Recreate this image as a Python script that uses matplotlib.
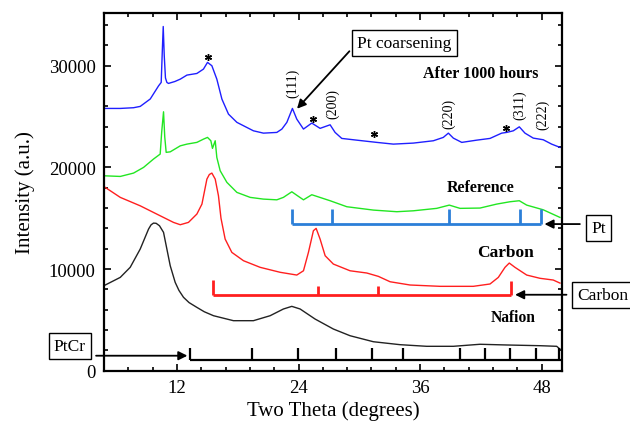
import matplotlib
matplotlib.use("Agg")
import matplotlib.pyplot as plt
from matplotlib.ticker import MultipleLocator

plt.rcParams["font.family"] = "Liberation Serif"

# ───────────── diffraction curves (two theta, intensity) ─────────────
after_x = [4.93, 6.41, 7.72, 8.38, 9.37, 10.19, 10.45, 10.55, 10.65, 10.75, 10.87,
           11.01, 11.17, 11.8, 12.33, 12.99, 13.97, 14.62, 15.02, 15.45, 15.94, 16.44,
           17.09, 17.92, 18.90, 19.55, 20.54, 21.86, 22.36, 22.85, 23.40, 23.83,
           24.49, 25.31, 26.13, 27.12, 27.61, 28.27, 29.75, 31.72, 33.36, 35.33,
           37.31, 38.29, 38.79, 39.28, 40.11, 41.59, 42.90, 44.05, 44.54, 45.20,
           45.79, 46.35, 47.17, 48.15, 48.98, 49.80]
after_y = [25800, 25800, 25870, 26000, 26730, 28020, 28360, 31200, 33860, 31000, 28800,
           28360, 28260, 28450, 28680, 29080, 29240, 29670, 30330, 30000, 28680, 26720,
           25240, 24430, 23930, 23600, 23370, 23440, 23770, 24430, 25800, 24750,
           23770, 24360, 23840, 24190, 23440, 22850, 22680, 22460, 22290, 22390,
           22620, 22950, 23370, 22880, 22460, 22680, 22850, 23370, 23440, 23600,
           23990, 23370, 22880, 22720, 22290, 21970]

ref_x = [4.93, 6.41, 7.72, 8.71, 9.69, 10.35, 10.50, 10.68, 10.80, 10.94, 11.34,
         12.33, 12.99, 13.97, 14.62, 15.02, 15.35, 15.51, 15.78, 15.94, 16.27,
         16.93, 17.92, 19.23, 20.54, 21.86, 22.51, 23.34, 23.99, 24.49, 25.31,
         27.12, 28.77, 31.39, 33.70, 35.33, 37.64, 38.88, 39.94, 41.91, 43.56,
         44.87, 45.79, 46.52, 48.15, 49.80]
ref_y = [19170, 19110, 19440, 20000, 20820, 21310, 23500, 25470, 23000, 21480, 21530,
         22120, 22290, 22460, 22780, 22950, 22620, 21870, 22620, 20980, 19670,
         18530, 17540, 17050, 16880, 16810, 17050, 17600, 17150, 16810, 17310,
         16720, 16130, 15800, 15640, 15730, 15970, 16290, 15970, 16000, 16390,
         16620, 16720, 16290, 15830, 15080]

carbon_x = [4.93, 6.41, 8.38, 10.35, 11.66, 12.33, 13.14, 13.97, 14.47, 14.96, 15.2,
            15.45, 15.78, 16.10, 16.35, 16.76, 17.42, 18.57, 20.21, 22.19, 23.83,
            24.49, 24.98, 25.47, 25.74, 26.13, 26.63, 27.44, 29.09, 30.74, 31.88,
            33.04, 35.01, 37.97, 41.25, 42.90, 43.72, 44.38, 44.80, 45.36, 46.52,
            47.83, 49.14, 49.80]
carbon_y = [18030, 17050, 16220, 15240, 14590, 14360, 14590, 15410, 16390, 18850, 19300,
            19440, 18850, 17210, 15000, 12950, 11640, 10820, 10170, 9680, 9410,
            9830, 11640, 13770, 14000, 12950, 11310, 10490, 9830, 9610, 9280,
            8750, 8430, 8300, 8300, 8530, 9180, 10170, 10590, 10170, 9410,
            9090, 8920, 8620]

nafion_x = [4.93, 6.41, 7.39, 8.38, 9.20, 9.45, 9.69, 9.95, 10.28, 10.68, 11.01, 11.34,
            11.83, 12.2, 12.65, 13.2, 13.97, 14.7, 15.61, 17.58, 19.55, 21.20, 22.51,
            23.34, 24.16, 25.64, 27.44, 29.09, 31.39, 34.02, 36.65, 39.28, 41.91,
            44.54, 47.83, 49.48, 49.80]
nafion_y = [8430, 9180, 10170, 11970, 13930, 14350, 14520, 14500, 14260, 13610, 11970,
            10330, 8690, 7900, 7220, 6700, 6230, 5800, 5410, 4920, 4920, 5410, 6070,
            6330, 6070, 5080, 4100, 3440, 2850, 2560, 2400, 2400, 2600,
            2530, 2460, 2400, 2130]

# ───────────── reference peak positions ─────────────
pt_ref = [23.40, 27.29, 38.88, 45.86, 47.93]
pt_base, pt_h = 14425, 1475
carbon_ref = [15.55, 25.96, 31.88, 44.97]
carbon_base = 7473
carbon_h = [1450, 890, 890, 1400]
ptcr_ref = [13.31, 19.40, 23.99, 27.66, 31.23, 34.27, 39.89, 42.45, 44.92, 47.43, 49.75]
ptcr_base, ptcr_h = 1050, 1200

miller_labels = ["(111)", "(200)", "(220)", "(311)", "(222)"]
miller_x = [23.42, 27.36, 38.80, 45.86, 48.12]
miller_y = [28390, 26320, 25390, 26180, 25240]

star_x = [15.06, 25.47, 31.46, 44.48]
star_y = [30820, 24750, 23270, 23840]

# ───────────── figure ─────────────
fig = plt.figure(figsize=(6.3, 4.27), dpi=100)
ax = fig.add_axes([0.165, 0.1295, 0.727, 0.838])

curve = dict(lw=1.0, solid_joinstyle="round")
ax.plot(after_x, after_y, color="#1f1fff", **curve)
ax.plot(ref_x, ref_y, color="#22e622", **curve)
ax.plot(carbon_x, carbon_y, color="#ff1f1f", **curve)
ax.plot(nafion_x, nafion_y, color="#222222", **curve)

# reference sticks
pt_col = "#2b7fd8"
ax.hlines(pt_base, pt_ref[0], pt_ref[-1], color=pt_col, lw=2)
ax.vlines(pt_ref, pt_base, pt_base + pt_h, color=pt_col, lw=2)
ax.hlines(carbon_base, carbon_ref[0], carbon_ref[-1], color="#ff1f1f", lw=2)
ax.vlines(carbon_ref, carbon_base, [carbon_base + h for h in carbon_h], color="#ff1f1f", lw=2)
ax.hlines(ptcr_base, ptcr_ref[0], 50, color="black", lw=1.6)
ax.vlines(ptcr_ref, ptcr_base, ptcr_base + ptcr_h, color="black", lw=1.6)

# labels
bold = dict(fontweight="bold", ha="center", va="center")
ax.text(41.96, 29270, "After 1000 hours", fontsize=11.5, **bold)
ax.text(41.99, 18080, "Reference", fontsize=11.5, **bold)
ax.text(44.38, 11640, "Carbon", fontsize=12.5, **bold)
ax.text(45.19, 5330, "Nafion", fontsize=11.2, **bold)

for lab, x, y in zip(miller_labels, miller_x, miller_y):
    ax.text(x, y, lab, rotation=90, ha="center", va="center", fontsize=10)

ax.plot(star_x, star_y, ls="none", marker=(6, 2, 0), ms=5, mew=1, color="black")

# boxed callouts with arrows
box = dict(boxstyle="square,pad=0.3", fc="white", ec="black", lw=1.0)
arrow = dict(arrowstyle="-|>", color="black", lw=1.3, mutation_scale=13)
ax.text(34.45, 32250, "Pt coarsening", fontsize=12.5, ha="center", va="center", bbox=box)
ax.annotate("", xy=(23.67, 25570), xytext=(29.21, 31630), arrowprops=arrow)

ax.text(53.63, 14060, "Pt", fontsize=12.5, ha="center", va="center", bbox=box, clip_on=False)
ax.annotate("", xy=(48.0, pt_base), xytext=(52.04, pt_base), arrowprops=arrow,
            annotation_clip=False)

ax.text(54.0, 7440, "Carbon", fontsize=12.5, ha="center", va="center", bbox=box, clip_on=False)
ax.annotate("", xy=(45.10, carbon_base), xytext=(50.72, carbon_base), arrowprops=arrow,
            annotation_clip=False)

ax.text(1.43, 2410, "PtCr", fontsize=12.5, ha="center", va="center", bbox=box, clip_on=False)
ax.annotate("", xy=(13.31, 1475), xytext=(3.75, 1475), arrowprops=arrow,
            annotation_clip=False)

# axes styling
ax.set_xlim(4.8, 50)
ax.set_ylim(0, 35200)
ax.set_xticks([12, 24, 36, 48])
ax.set_yticks([0, 10000, 20000, 30000])
ax.xaxis.set_minor_locator(MultipleLocator(2.4))
ax.yaxis.set_minor_locator(MultipleLocator(2000))
ax.tick_params(which="both", direction="in", top=True, right=True, width=1.2)
ax.tick_params(which="major", length=5, labelsize=13.5, pad=6)
ax.tick_params(which="minor", length=3)
for s in ax.spines.values():
    s.set_linewidth(1.6)

ax.set_xlabel("Two Theta (degrees)", fontsize=15, labelpad=3)
ax.set_ylabel("Intensity (a.u.)", fontsize=15, labelpad=10)

fig.savefig("out.png", dpi=100)
